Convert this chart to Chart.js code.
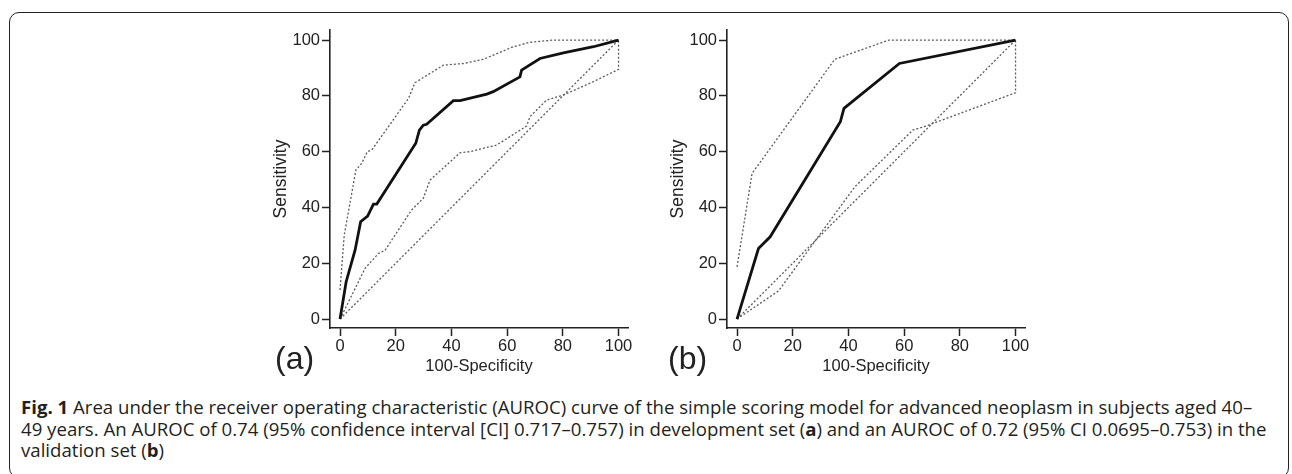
<!DOCTYPE html>
<html>
<head>
<meta charset="utf-8">
<script src="https://cdn.jsdelivr.net/npm/chart.js@4.4.0/dist/chart.umd.min.js"></script>
<style>
  body{margin:0;width:1292px;height:474px;overflow:hidden;background:#fff;position:relative;font-family:"Liberation Sans",Arial,sans-serif;color:#222}
  .frame{position:absolute;left:9px;top:12px;width:1280px;height:466px;border:1.5px solid #222;border-radius:10px;box-sizing:border-box}
  .panel{position:absolute;top:14px}
  .tag{position:absolute;font-size:32px;line-height:32px;color:#222}
  .cap{position:absolute;left:21px;top:396px;font-family:"Open Sans","Noto Sans",sans-serif;color:#231f20;line-height:21.5px;white-space:nowrap}
  .cap b{font-weight:700}
</style>
</head>
<body>
<div class="frame"></div>
<canvas id="chartA" class="panel" width="394" height="370" style="left:250px"></canvas>
<canvas id="chartB" class="panel" width="394" height="370" style="left:647px"></canvas>
<div class="tag" style="left:275px;top:342px">(a)</div>
<div class="tag" style="left:668px;top:342px">(b)</div>
<div class="cap" id="cap">
  <div class="ln" id="ln1"><b>Fig. 1</b> Area under the receiver operating characteristic (AUROC) curve of the simple scoring model for advanced neoplasm in subjects aged 40–</div>
  <div class="ln">49 years. An AUROC of 0.74 (95% confidence interval [CI] 0.717–0.757) in development set (<b>a</b>) and an AUROC of 0.72 (95% CI 0.0695–0.753) in the</div>
  <div class="ln">validation set (<b>b</b>)</div>
</div>
<script>
// tick labels, both panels
const xTicks = [0, 20, 40, 60, 80, 100];
const yTicks = [0, 20, 40, 60, 80, 100];

// (a) development set
const aRocX = [0, 2.2, 5.4, 7.4, 9.9, 12, 13.2, 27.2, 28.5, 29.9, 31.1, 40.7, 43.1, 52.7, 55, 64.6, 65.2, 71.8, 80.2, 91, 100];
const aRocY = [0, 13.4, 24.7, 34.9, 36.9, 41.2, 41.2, 63, 67.7, 69.5, 69.8, 78.3, 78.3, 80.6, 81.5, 86.8, 89.2, 93.4, 95.4, 97.6, 100];
const aUpX = [0, 1.5, 5.7, 7.8, 9.8, 11.4, 24.6, 26.9, 37.1, 44.3, 51.5, 62.2, 68.2, 76.6, 100];
const aUpY = [10.4, 30, 53.4, 55.8, 60, 60.6, 79.1, 84.7, 91, 91.6, 93.1, 97.6, 99.2, 100, 100];
const aLoX = [0, 9, 10.8, 13.8, 16.2, 25.7, 29.9, 32.3, 43.1, 46.7, 56.3, 67, 68.2, 74.2, 80.2, 91, 100, 100];
const aLoY = [0, 18.2, 20.2, 23.5, 24.7, 39.1, 43.3, 49.8, 59.6, 60, 62.4, 69.2, 72.5, 78.5, 80.3, 85.1, 89.5, 100];

// (b) validation set
const bRocX = [0, 7.7, 11.9, 37.1, 38.4, 58.3, 100];
const bRocY = [0, 25.3, 29.5, 70.7, 75.5, 91.6, 100];
const bUpX = [0, 5.4, 35.1, 54.5, 100];
const bUpY = [18.7, 52.2, 93.1, 100, 100];
const bLoX = [0, 14.9, 42.3, 63.1, 67.9, 100, 100];
const bLoY = [0, 10.1, 47.4, 67.7, 69.2, 81.1, 100];

// chance line
const refX = [0, 100];
const refY = [0, 100];

const FONT = "'Liberation Sans', Arial, sans-serif";
const INK = "#222";

const pts = (xs, ys) => xs.map((x, i) => ({x, y: ys[i]}));

function solid(xs, ys){
  return {data: pts(xs, ys), showLine: true, borderColor: "#111", borderWidth: 2.8, pointRadius: 0, fill: false, tension: 0};
}
function dotted(xs, ys){
  return {data: pts(xs, ys), showLine: true, borderColor: "#5a5a5a", borderWidth: 1.3, borderDash: [2, 2], pointRadius: 0, fill: false, tension: 0};
}

function axis(title, isX){
  return {
    type: "linear",
    min: isX ? -3.6 : -3.2,
    max: isX ? 103.4 : 103.6,
    afterBuildTicks: s => { s.ticks = (isX ? xTicks : yTicks).map(v => ({value: v})); },
    afterFit: s => { if(isX) s.height = 56; else s.width = 80; },
    grid: {drawOnChartArea: false, drawTicks: true, tickLength: 8, tickColor: INK, tickWidth: 1.5},
    border: {display: true, color: INK, width: 1.6},
    ticks: {color: INK, font: {family: FONT, size: 16.5}, padding: isX ? 1 : 2, maxRotation: 0, autoSkip: false},
    title: {display: true, text: title, color: INK, font: {family: FONT, size: isX ? 16.5 : 17.5},
            padding: isX ? {top: 0, bottom: 8} : {top: 21, bottom: 0}}
  };
}

function makeChart(id, sets){
  new Chart(document.getElementById(id), {
    type: "scatter",
    data: {datasets: sets},
    options: {
      responsive: false, animation: false, devicePixelRatio: 1,
      layout: {padding: {left: 0, right: 16, top: 16, bottom: 0}},
      plugins: {legend: {display: false}, tooltip: {enabled: false}},
      scales: {x: axis("100-Specificity", true), y: axis("Sensitivity", false)}
    }
  });
}

makeChart("chartA", [solid(aRocX, aRocY), dotted(aUpX, aUpY), dotted(aLoX, aLoY), dotted(refX, refY)]);
makeChart("chartB", [solid(bRocX, bRocY), dotted(bUpX, bUpY), dotted(bLoX, bLoY), dotted(refX, refY)]);

// fit caption width to the reference line length
(function(){
  const cap = document.getElementById("cap"), l1 = document.getElementById("ln1");
  cap.style.fontSize = "16px";
  l1.style.display = "inline-block";
  const w = l1.getBoundingClientRect().width;
  cap.style.fontSize = (16 * 1232 / w).toFixed(2) + "px";
  l1.style.display = "";
})();
</script>
</body>
</html>
